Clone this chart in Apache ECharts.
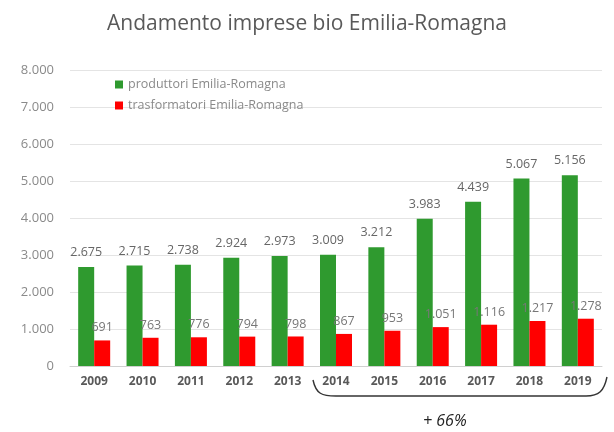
<!DOCTYPE html>
<html><head><meta charset="utf-8">
<script src="https://cdn.jsdelivr.net/npm/echarts@6/dist/echarts.min.js"></script>
<style>html,body{margin:0;padding:0;background:#fff}#c{width:614px;height:432px}</style>
</head><body><div id="c"></div>
<script>
var years = ['2009','2010','2011','2012','2013','2014','2015','2016','2017','2018','2019'];
var produttori = [2675,2715,2738,2924,2973,3009,3212,3983,4439,5067,5156];
var trasformatori = [691,763,776,794,798,867,953,1051,1116,1217,1278];
var yTicks = [0,1000,2000,3000,4000,5000,6000,7000,8000];

function fmt(v){ return String(v).replace(/\B(?=(\d{3})+(?!\d))/g,'.'); }

var braceStyle = {stroke:'#333',lineWidth:1.4,fill:null};
var chart = echarts.init(document.getElementById('c'));
chart.setOption({
  animation:false,
  title:{text:'Andamento imprese bio Emilia-Romagna',left:'center',top:9,
    textStyle:{fontFamily:'Open Sans',fontWeight:'normal',fontSize:21,color:'#595959'}},
  legend:{left:110,top:73,orient:'vertical',itemWidth:8,itemHeight:8,itemGap:8,
    icon:'rect',textStyle:{fontFamily:'Open Sans',fontSize:12.5,color:'#8a8a8a'},
    data:['produttori Emilia-Romagna','trasformatori Emilia-Romagna']},
  grid:{left:70,right:12,top:70,bottom:66},
  xAxis:{type:'category',data:years,
    axisLine:{lineStyle:{color:'#d0d0d0'}},axisTick:{show:false},
    axisLabel:{fontFamily:'Open Sans',fontSize:12,fontWeight:'bold',color:'#595959',margin:10}},
  yAxis:{type:'value',min:yTicks[0],max:yTicks[yTicks.length-1],interval:1000,
    axisLine:{show:false},axisTick:{show:false},
    splitLine:{lineStyle:{color:'#e4e4e4'}},
    axisLabel:{fontFamily:'Open Sans',fontSize:13,color:'#8a8a8a',formatter:fmt,margin:16}},
  series:[
    {name:'produttori Emilia-Romagna',type:'bar',data:produttori,barWidth:16,barGap:'0%',
     itemStyle:{color:'#2f9a2f'},
     label:{show:true,position:'top',distance:8,formatter:function(p){return fmt(p.value);},
       fontFamily:'Open Sans',fontSize:12.5,color:'#666'}},
    {name:'trasformatori Emilia-Romagna',type:'bar',data:trasformatori,barWidth:16,
     itemStyle:{color:'#ff0000'},
     label:{show:true,position:'top',distance:6,formatter:function(p){return fmt(p.value);},
       fontFamily:'Open Sans',fontSize:12.5,color:'#777'}}
  ],
  graphic:[
    {type:'bezierCurve',shape:{x1:313,y1:380,cpx1:316,cpy1:394,cpx2:322,cpy2:396,x2:336,y2:396},style:braceStyle},
    {type:'line',shape:{x1:336,y1:396,x2:586,y2:396},style:braceStyle},
    {type:'bezierCurve',shape:{x1:586,y1:396,cpx1:599,cpy1:396,cpx2:604,cpy2:391,x2:607,y2:377},style:braceStyle},
    {type:'text',left:423,top:413,style:{text:'+ 66%',font:'italic 16px "Open Sans"',fill:'#222'}}
  ]
});
</script></body></html>
